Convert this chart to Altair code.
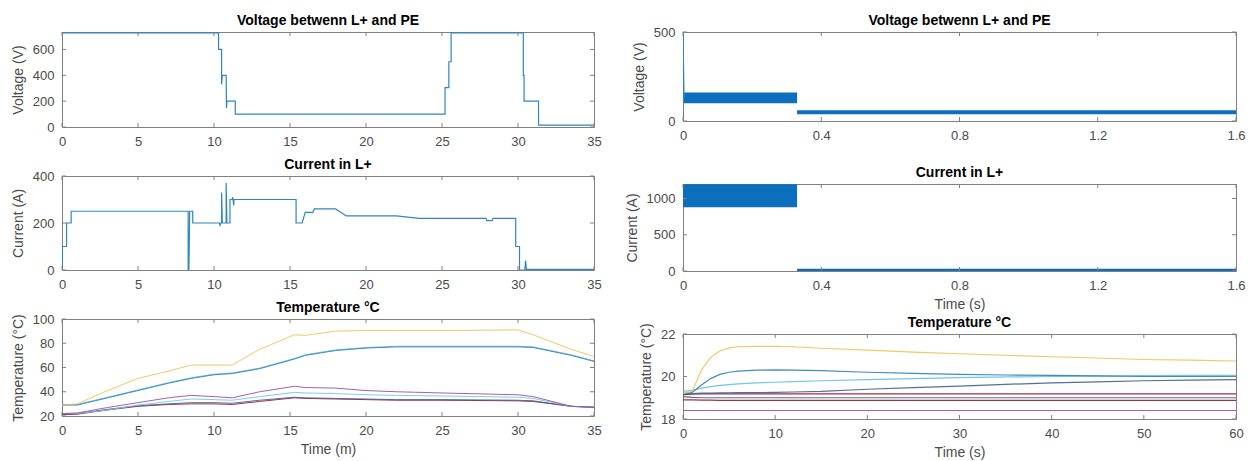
import altair as alt
import pandas as pd

FONT = "Liberation Sans"
LINE_BLUE = "#2f86c2"
BAND_BLUE = "#0b6fbd"
FRAME = "#808080"
TXT = "#4a4a4a"

# ---------------- left column : time in minutes ----------------
volt_m_t = [0, 10.3, 10.3, 10.5, 10.5, 10.55, 10.8, 10.82, 10.85, 11.4, 11.4,
            25.2, 25.2, 25.45, 25.45, 25.6, 25.6, 30.35, 30.35, 30.4, 30.4,
            31.35, 31.35, 35]
volt_m_v = [728, 728, 600, 600, 330, 400, 400, 145, 200, 200, 100,
            100, 305, 305, 505, 505, 728, 728, 400, 400, 200,
            200, 15, 15]

curr_m_t = [0, 0.03, 0.03, 0.3, 0.3, 0.6, 0.6, 8.3, 8.3, 8.35, 8.4, 8.6, 8.6,
            10.35, 10.4, 10.45, 10.5, 10.5, 10.55, 10.8, 10.8, 10.85, 11.05, 11.05,
            11.2, 11.22, 11.25, 11.3, 11.32, 15.4, 15.4, 15.8, 16.0, 16.5, 16.6,
            18.0, 18.7, 22.0, 23.5, 27.9, 27.95, 28.3, 28.35, 29.85, 29.85,
            30.1, 30.1, 30.45, 30.5, 30.55, 35]
curr_m_v = [0, 0, 100, 100, 200, 200, 250, 250, 0, 0, 250, 250, 200,
            200, 190, 200, 200, 330, 200, 200, 370, 200, 200, 300,
            300, 310, 300, 275, 300, 300, 200, 200, 245, 245, 260,
            260, 230, 230, 220, 220, 210, 210, 220, 220, 100,
            100, 0, 0, 40, 3, 3]

temp_m_t = [0, 1, 3, 5, 7, 8.5, 10, 11.2, 13, 15.3, 16, 18, 20, 22, 25, 30, 31, 33.5, 35]
temp_m_yellow = [29, 30, 41, 51, 57, 62, 62, 62, 75, 87, 86.5, 90, 90.5, 90.5, 90.5, 91, 87, 75, 69]
temp_m_blue = [29, 29, 35, 41, 47, 51, 54, 55, 59, 67, 70, 74, 76, 77, 77, 77, 76.5, 70, 65]
temp_m_lblue = [29.5, 29.5, 35.5, 41.5, 47.5, 51.5, 54.5, 55.5, 59.5, 67.5, 70.5, 74.5, 76.5, 77.5, 77.5, 77.5, 77, 70.5, 65.5]
temp_m_purple = [22, 22.5, 27, 31, 35, 37, 36, 35, 40, 44.5, 43.5, 43, 41, 40, 39, 37.5, 36, 28, 27]
temp_m_cyan = [22, 22, 25, 29, 32, 34, 33.5, 33, 36, 39.5, 39, 38.5, 37.5, 37, 36.5, 35.5, 34.5, 28, 27]
temp_m_dark = [21.5, 22, 25.5, 28.5, 30, 31, 31, 30.5, 33, 35.5, 35, 34.5, 34, 33.5, 33.5, 33, 32.5, 28, 27.5]
temp_m_red = [21, 21.5, 25, 28, 29.5, 30, 30, 29.5, 32, 35, 34.5, 34, 33.5, 33, 33, 32.5, 32, 28, 27]

# ---------------- right column : time in seconds ----------------
volt_s_spike_t = [0, 0, 0.003]
volt_s_spike_v = [0, 500, 130]
volt_s_band_t = [0.002, 0.33, 0.33, 1.6]
volt_s_band_lo = [100, 100, 38, 38]
volt_s_band_hi = [160, 160, 60, 60]
volt_s_band_id = ["a", "a", "b", "b"]

curr_s_band_t = [0.0, 0.33, 0.33, 1.6]
curr_s_band_lo = [880, 880, 0, 0]
curr_s_band_hi = [1195, 1195, 30, 30]
curr_s_band_id = ["a", "a", "b", "b"]

temp_s_t = [0, 1, 2, 3, 4, 5, 6, 8, 10, 12, 15, 20, 25, 30, 35, 40, 45, 50, 55, 60]
temp_s_yellow = [19.2, 19.3, 20.3, 20.9, 21.2, 21.35, 21.4, 21.42, 21.42, 21.4, 21.33, 21.24, 21.15, 21.07, 21.0, 20.93, 20.87, 20.8, 20.77, 20.73]
temp_s_blue = [19.2, 19.25, 19.6, 19.9, 20.1, 20.2, 20.25, 20.3, 20.31, 20.3, 20.28, 20.2, 20.15, 20.1, 20.07, 20.05, 20.03, 20.0, 20.0, 20.0]
temp_s_lblue = [19.3, 19.35, 19.45, 19.52, 19.58, 19.62, 19.65, 19.7, 19.73, 19.76, 19.8, 19.85, 19.9, 19.95, 19.98, 20.0, 20.02, 20.04, 20.05, 20.05]
temp_s_teal = [19.2, 19.2, 19.22, 19.22, 19.23, 19.23, 19.24, 19.24, 19.25, 19.27, 19.3, 19.4, 19.48, 19.55, 19.63, 19.7, 19.75, 19.8, 19.83, 19.85]
temp_s_red = [19.15, 19.17, 19.18, 19.18, 19.18, 19.18, 19.18, 19.18, 19.18, 19.18, 19.18, 19.18, 19.18, 19.18, 19.18, 19.18, 19.18, 19.18, 19.18, 19.18]
temp_s_dark = [19.05, 19.02, 19.0, 19.0, 19.0, 19.0, 19.0, 19.0, 19.0, 19.0, 19.0, 19.0, 19.0, 19.0, 19.0, 19.0, 19.0, 19.0, 19.0, 19.0]
temp_s_green = [18.9, 18.9, 18.89, 18.89, 18.88, 18.88, 18.88, 18.88, 18.88, 18.88, 18.88, 18.88, 18.88, 18.88, 18.88, 18.88, 18.88, 18.88, 18.88, 18.88]
temp_s_purple = [18.4, 18.4, 18.4, 18.4, 18.4, 18.4, 18.4, 18.4, 18.4, 18.4, 18.4, 18.4, 18.4, 18.4, 18.4, 18.4, 18.4, 18.4, 18.4, 18.4]

# tick labels
xt_m = [0, 5, 10, 15, 20, 25, 30, 35]
xt_s = [0, 0.4, 0.8, 1.2, 1.6]
xt_s60 = [0, 10, 20, 30, 40, 50, 60]


def long_df(t, series):
    rows = []
    for name, vals, _ in series:
        for ti, vi in zip(t, vals):
            rows.append({"t": ti, "v": vi, "s": name})
    return pd.DataFrame(rows)


def panel(layers_fn, xdom, ydom, xticks, yticks, xfmt, w, h, title, ytitle, xtitle=None):
    X = alt.X("t:Q", scale=alt.Scale(domain=xdom, nice=False, zero=False),
              axis=alt.Axis(values=xticks, format=xfmt, title=xtitle))
    Y = alt.Y("v:Q", scale=alt.Scale(domain=ydom, nice=False, zero=False),
              axis=alt.Axis(values=yticks, format="d", title=ytitle))
    layers = layers_fn(X, Y)
    xt = pd.DataFrame({"t": xticks})
    yt = pd.DataFrame({"v": yticks})
    tk = dict(color=FRAME, strokeWidth=1)
    layers += [
        alt.Chart(xt).mark_rule(**tk).encode(x=X, y=alt.value(h), y2=alt.value(h - 4)),
        alt.Chart(xt).mark_rule(**tk).encode(x=X, y=alt.value(0), y2=alt.value(4)),
        alt.Chart(yt).mark_rule(**tk).encode(y=Y, x=alt.value(0), x2=alt.value(4)),
        alt.Chart(yt).mark_rule(**tk).encode(y=Y, x=alt.value(w), x2=alt.value(w - 4)),
        alt.Chart(pd.DataFrame({"title": [title]})).mark_text(
            font=FONT, fontSize=14, fontWeight="bold", color="black",
            align="center", baseline="middle",
        ).encode(x=alt.value(w / 2), y=alt.value(-11), text="title:N"),
    ]
    return alt.layer(*layers).properties(width=w, height=h)


def simple_line(t, v, color=LINE_BLUE, sw=1.2):
    df = pd.DataFrame({"t": t, "v": v, "o": range(len(t))})
    def fn(X, Y):
        return [alt.Chart(df).mark_line(color=color, strokeWidth=sw, clip=True)
                .encode(x=X, y=Y, order="o:Q")]
    return fn


def multi_line(t, series, sw=1.0):
    df = long_df(t, series)
    names = [s[0] for s in series]
    cols = [s[2] for s in series]
    def fn(X, Y):
        return [alt.Chart(df).mark_line(strokeWidth=sw, clip=True, opacity=0.9)
                .encode(x=X, y=Y,
                        color=alt.Color("s:N", scale=alt.Scale(domain=names, range=cols), legend=None),
                        order="t:Q")]
    return fn


def bands(t, lo, hi, ids, spike=None):
    df = pd.DataFrame({"t": t, "v": lo, "v2": hi, "id": ids})
    def fn(X, Y):
        out = [alt.Chart(df).mark_area(color=BAND_BLUE, clip=True, opacity=1)
               .encode(x=X, y=Y, y2="v2:Q", detail="id:N")]
        if spike is not None:
            sdf = pd.DataFrame({"t": spike[0], "v": spike[1], "o": range(len(spike[0]))})
            out.append(alt.Chart(sdf).mark_line(color=LINE_BLUE, strokeWidth=1.2, clip=True)
                       .encode(x=X, y=Y, order="o:Q"))
        return out
    return fn


LW, RW = 532, 553
fmt_i = "d"
fmt_f = ".1~f"

left = alt.vconcat(
    panel(simple_line(volt_m_t, volt_m_v), [0, 35], [0, 735], xt_m, [0, 200, 400, 600], fmt_i,
          LW, 95, "Voltage betwenn L+ and PE", "Voltage (V)"),
    panel(simple_line(curr_m_t, curr_m_v), [0, 35], [0, 400], xt_m, [0, 200, 400], fmt_i,
          LW, 94, "Current in L+", "Current (A)"),
    panel(multi_line(temp_m_t, [
        ("red", temp_m_red, "#a2142f"),
        ("dark", temp_m_dark, "#3f5f8f"),
        ("cyan", temp_m_cyan, "#6cc8ee"),
        ("purple", temp_m_purple, "#9b4fa8"),
        ("lblue", temp_m_lblue, "#5fc0e8"),
        ("blue", temp_m_blue, "#2f7fb5"),
        ("yellow", temp_m_yellow, "#efc255"),
    ]), [0, 35], [20, 100], xt_m, [20, 40, 60, 80, 100], fmt_i,
        LW, 97, "Temperature °C", "Temperature (°C)", "Time (m)"),
    spacing=49, bounds="flush",
)

right = alt.vconcat(
    panel(bands(volt_s_band_t, volt_s_band_lo, volt_s_band_hi, volt_s_band_id,
                spike=(volt_s_spike_t, volt_s_spike_v)),
          [0, 1.6], [0, 500], xt_s, [0, 500], fmt_f, RW, 89,
          "Voltage betwenn L+ and PE", "Voltage (V)"),
    panel(bands(curr_s_band_t, curr_s_band_lo, curr_s_band_hi, curr_s_band_id),
          [0, 1.6], [0, 1200], xt_s, [0, 500, 1000], fmt_f, RW, 87,
          "Current in L+", "Current (A)", "Time (s)"),
    panel(multi_line(temp_s_t, [
        ("purple", temp_s_purple, "#a77fc0"),
        ("green", temp_s_green, "#c4dc9a"),
        ("dark", temp_s_dark, "#4a4a5a"),
        ("red", temp_s_red, "#d9674a"),
        ("teal", temp_s_teal, "#3579a8"),
        ("lblue", temp_s_lblue, "#6cc4ea"),
        ("blue", temp_s_blue, "#2c7db6"),
        ("yellow", temp_s_yellow, "#e9bf3c"),
    ], sw=1.2), [0, 60], [18, 22], xt_s60, [18, 20, 22], fmt_i,
        RW, 85, "Temperature °C", "Temperature (°C)", "Time (s)"),
    spacing=63, bounds="flush",
)

chart = alt.hconcat(left, right, spacing=22, bounds="full").properties(
    padding={"left": 10, "top": 13, "right": 5, "bottom": 2},
    background="white",
).configure_view(
    stroke=FRAME, strokeWidth=1
).configure_axis(
    domain=False, ticks=False, tickSize=0, grid=False,
    labelFont=FONT, labelFontSize=13, labelColor=TXT,
    labelFlush=False, labelOverlap=False, labelPadding=8,
    titleFont=FONT, titleFontSize=14, titleColor=TXT, titleFontWeight="normal",
    titlePadding=7,
).configure_axisX(
    labelPadding=8, titlePadding=5
)

chart.save("out.html", embed_options={"renderer": "svg", "actions": False})
